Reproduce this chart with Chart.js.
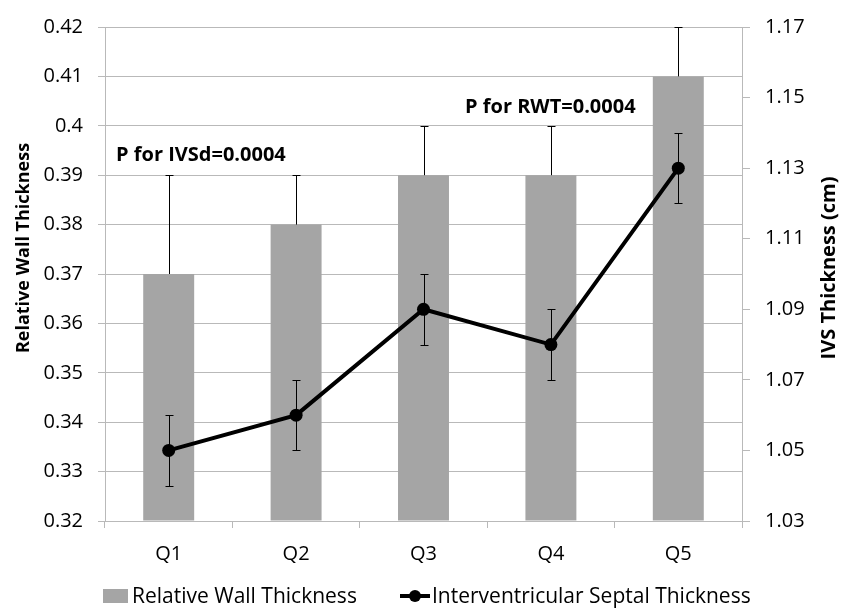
<!DOCTYPE html>
<html lang="en">
<head>
<meta charset="UTF-8">
<title>Relative Wall Thickness and IVS Thickness</title>
<script src="https://cdn.jsdelivr.net/npm/chart.js"></script>
<style>
  html, body { margin: 0; padding: 0; background: #fff; }
  #wrap { width: 842px; height: 612px; position: relative; }
</style>
</head>
<body>
<div id="wrap"><canvas id="grafico" width="842" height="612"></canvas></div>
<script>
  // dados
  var categorias = ['Q1', 'Q2', 'Q3', 'Q4', 'Q5'];
  var rwt = [0.37, 0.38, 0.39, 0.39, 0.41];
  var rwtSuperior = [0.39, 0.39, 0.40, 0.40, 0.42];
  var ivs = [1.05, 1.06, 1.09, 1.08, 1.13];
  var ivsInferior = [1.04, 1.05, 1.08, 1.07, 1.12];
  var ivsSuperior = [1.06, 1.07, 1.10, 1.09, 1.14];
  var notas = ['P for IVSd=0.0004', 'P for RWT=0.0004'];
  var nomesSeries = ['Relative Wall Thickness', 'Interventricular Septal Thickness'];
  var titulosEixos = ['Relative Wall Thickness', 'IVS Thickness (cm)'];

  var corBarra = '#a5a5a5';
  var corGrade = '#b9b9b9';
  var fonte = '"Open Sans", "DejaVu Sans", sans-serif';

  Chart.defaults.font.family = fonte;
  Chart.defaults.color = '#000';

  function nitido(v) { return Math.round(v) + 0.5; }

  // barras de erro (RWT so para cima, IVS para os dois lados)
  const barrasErro = {
    id: 'barrasErro',
    afterDatasetsDraw(chart) {
      const ctx = chart.ctx;
      const x = chart.scales.x, y = chart.scales.y, y1 = chart.scales.y1;
      ctx.save();
      ctx.strokeStyle = '#000';
      ctx.lineWidth = 1;
      for (let i = 0; i < categorias.length; i++) {
        const px = nitido(x.getPixelForValue(i));
        const topo = nitido(y.getPixelForValue(rwtSuperior[i]));
        const base = y.getPixelForValue(rwt[i]);
        ctx.beginPath();
        ctx.moveTo(px, base);
        ctx.lineTo(px, topo);
        ctx.moveTo(px - 4, topo);
        ctx.lineTo(px + 4, topo);
        ctx.stroke();

        const a = nitido(y1.getPixelForValue(ivsSuperior[i]));
        const b = nitido(y1.getPixelForValue(ivsInferior[i]));
        ctx.beginPath();
        ctx.moveTo(px, a);
        ctx.lineTo(px, b);
        ctx.moveTo(px - 4, a);
        ctx.lineTo(px + 4, a);
        ctx.moveTo(px - 4, b);
        ctx.lineTo(px + 4, b);
        ctx.stroke();
      }
      ctx.restore();
    }
  };

  // textos de P, titulos dos eixos e legenda
  const textos = {
    id: 'textos',
    afterDraw(chart) {
      const ctx = chart.ctx;
      const area = chart.chartArea;
      ctx.save();
      ctx.fillStyle = '#000';
      ctx.textBaseline = 'alphabetic';
      ctx.textAlign = 'left';
      ctx.font = 'bold 20px ' + fonte;
      ctx.fillText(notas[0], area.left + 11, 161);
      ctx.fillText(notas[1], 465, 113);

      // titulos dos eixos (lidos de baixo para cima)
      ctx.textAlign = 'center';
      ctx.textBaseline = 'middle';
      ctx.save();
      ctx.translate(24, 248);
      ctx.rotate(-Math.PI / 2);
      ctx.font = 'bold 18px ' + fonte;
      ctx.fillText(titulosEixos[0], 0, 0);
      ctx.restore();
      ctx.save();
      ctx.translate(829, 268);
      ctx.rotate(-Math.PI / 2);
      ctx.font = 'bold 20px ' + fonte;
      ctx.fillText(titulosEixos[1], 0, 0);
      ctx.restore();

      // legenda
      ctx.textAlign = 'left';
      ctx.textBaseline = 'alphabetic';
      ctx.font = '21px ' + fonte;
      ctx.fillStyle = corBarra;
      ctx.fillRect(103, 589, 25, 14);
      ctx.fillStyle = '#000';
      ctx.fillText(nomesSeries[0], 132, 603);

      ctx.strokeStyle = '#000';
      ctx.lineWidth = 4;
      ctx.beginPath();
      ctx.moveTo(400, 596);
      ctx.lineTo(430, 596);
      ctx.stroke();
      ctx.beginPath();
      ctx.arc(415, 596, 6, 0, Math.PI * 2);
      ctx.fill();
      ctx.fillText(nomesSeries[1], 432, 603);
      ctx.restore();
    }
  };

  var dados = {
    labels: categorias,
    datasets: [{
      type: 'line',
      label: nomesSeries[1],
      data: ivs,
      yAxisID: 'y1',
      borderColor: '#000',
      backgroundColor: '#000',
      borderWidth: 4,
      pointRadius: 6.5,
      pointHoverRadius: 6.5,
      pointBackgroundColor: '#000',
      pointBorderWidth: 0,
      tension: 0,
      order: 0
    },
    {
      type: 'bar',
      label: nomesSeries[0],
      data: rwt,
      yAxisID: 'y',
      backgroundColor: corBarra,
      borderWidth: 0,
      categoryPercentage: 1,
      barPercentage: 0.4,
      base: 0.32,
      order: 1
    }]
  };

  var opcoes = {
    responsive: false,
    animation: false,
    devicePixelRatio: 1,
    layout: { padding: { top: 17, left: 0, right: 0, bottom: 0 } },
    plugins: {
      legend: { display: false },
      tooltip: { enabled: false }
    },
    scales: {
      x: {
        offset: true,
        grid: { display: true, drawOnChartArea: false, drawTicks: true, tickLength: 7, color: corGrade },
        border: { display: true, color: corGrade },
        ticks: { font: { size: 20 }, padding: 14, color: '#000', maxRotation: 0 },
        afterFit: function (s) { s.height = 91; }
      },
      y: {
        position: 'left',
        min: 0.32,
        max: 0.42,
        ticks: {
          stepSize: 0.01,
          font: { size: 20 },
          padding: 15,
          color: '#000',
          callback: function (v) { return String(parseFloat(Number(v).toFixed(2))); }
        },
        grid: { color: corGrade, tickLength: 7 },
        border: { display: true, color: corGrade },
        afterFit: function (s) { s.width = 105; }
      },
      y1: {
        position: 'right',
        min: 1.03,
        max: 1.17,
        ticks: {
          stepSize: 0.02,
          font: { size: 20 },
          padding: 15,
          color: '#000',
          callback: function (v) { return Number(v).toFixed(2); }
        },
        grid: { drawOnChartArea: false, color: corGrade, tickLength: 8 },
        border: { display: true, color: corGrade },
        afterFit: function (s) { s.width = 100; }
      }
    }
  };

  new Chart(document.getElementById('grafico'), {
    type: 'bar',
    data: dados,
    options: opcoes,
    plugins: [barrasErro, textos]
  });
</script>
</body>
</html>
